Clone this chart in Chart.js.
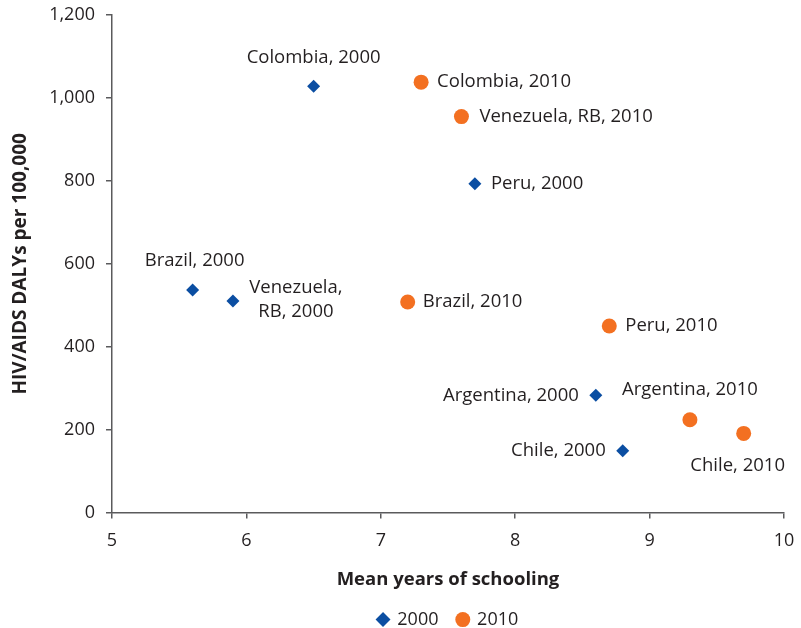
<!DOCTYPE html>
<html>
<head>
<meta charset="utf-8">
<script src="https://cdn.jsdelivr.net/npm/chart.js@4"></script>
<style>
  html, body { margin: 0; padding: 0; background: #ffffff; }
  canvas { display: block; }
</style>
</head>
<body>
<canvas id="c" width="801" height="628"></canvas>
<script>
// ---- data ----
const countries2000 = ['Colombia', 'Peru', 'Brazil', 'Venezuela, RB', 'Argentina', 'Chile'];
const schooling2000 = [6.5, 7.7, 5.6, 5.9, 8.6, 8.8];
const dalys2000 = [1028, 793, 537, 510, 283, 149];

const countries2010 = ['Colombia', 'Venezuela, RB', 'Brazil', 'Peru', 'Argentina', 'Chile'];
const schooling2010 = [7.3, 7.6, 7.2, 8.7, 9.3, 9.7];
const dalys2010 = [1038, 955, 508, 450, 224, 191];

const seriesNames = ['2000', '2010'];
const xTitle = 'Mean years of schooling';
const yTitle = 'HIV/AIDS DALYs per 100,000';

// ---- label placement (styling only: offsets from each point, in px) ----
const labelPlacement = [
  [ // 2000
    { dx: 0, dy: -29, align: 'center' },       // Colombia
    { dx: 16, dy: 0, align: 'left' },          // Peru
    { dx: 2, dy: -29, align: 'center' },       // Brazil
    { dx: 63, dy: -1, align: 'center', lines: ['Venezuela,', 'RB, 2000'] }, // Venezuela
    { dx: -17, dy: 0, align: 'right' },        // Argentina
    { dx: -17, dy: 0, align: 'right' }         // Chile
  ],
  [ // 2010
    { dx: 16, dy: 0, align: 'left' },          // Colombia
    { dx: 18, dy: 0, align: 'left' },          // Venezuela
    { dx: 15, dy: 0, align: 'left' },          // Brazil
    { dx: 16, dy: 0, align: 'left' },          // Peru
    { dx: 0, dy: -30, align: 'center' },       // Argentina
    { dx: -6, dy: 32, align: 'center' }        // Chile
  ]
];

const FONT = '"Open Sans", "Noto Sans", sans-serif';
const TEXT = '#231f20';
const AXIS = '#5a5a5c';
const BLUE = '#0b4ea2';
const ORANGE = '#f37021';

const pointLabels = {
  id: 'pointLabels',
  afterDatasetsDraw(chart) {
    const ctx = chart.ctx;
    ctx.save();
    ctx.font = '18.5px ' + FONT;
    ctx.fillStyle = TEXT;
    ctx.textBaseline = 'middle';
    chart.data.datasets.forEach((ds, di) => {
      const meta = chart.getDatasetMeta(di);
      meta.data.forEach((el, i) => {
        const p = labelPlacement[di][i];
        const lines = p.lines || [ds.names[i] + ', ' + ds.label];
        ctx.textAlign = p.align;
        const lh = 24;
        const y0 = el.y + p.dy - (lines.length - 1) * lh / 2;
        lines.forEach((t, k) => ctx.fillText(t, el.x + p.dx, y0 + k * lh));
      });
    });
    ctx.restore();
  }
};

function zeroPad(s) { s.paddingTop = 0; s.paddingBottom = 0; s.paddingLeft = 0; s.paddingRight = 0; }

new Chart(document.getElementById('c'), {
  type: 'scatter',
  data: {
    datasets: [
      {
        label: seriesNames[0],
        names: countries2000,
        data: schooling2000.map((x, i) => ({ x: x, y: dalys2000[i] })),
        pointStyle: 'rectRot',
        pointRadius: 6.5,
        backgroundColor: BLUE,
        borderColor: BLUE,
        borderWidth: 0
      },
      {
        label: seriesNames[1],
        names: countries2010,
        data: schooling2010.map((x, i) => ({ x: x, y: dalys2010[i] })),
        pointStyle: 'circle',
        pointRadius: 7.5,
        backgroundColor: ORANGE,
        borderColor: ORANGE,
        borderWidth: 0
      }
    ]
  },
  options: {
    responsive: false,
    devicePixelRatio: 1,
    animation: false,
    events: [],
    layout: { autoPadding: false, padding: { top: 15, right: 17, bottom: -10.6, left: 0 } },
    plugins: {
      tooltip: { enabled: false },
      legend: {
        position: 'bottom',
        fullSize: false,
        labels: {
          usePointStyle: true,
          boxWidth: 10.6,
          boxHeight: 10.6,
          padding: 19,
          color: TEXT,
          font: { family: FONT, size: 18 }
        }
      }
    },
    scales: {
      x: {
        type: 'linear',
        min: 5, max: 10,
        afterFit: s => { s.height = 79; zeroPad(s); },
        ticks: { stepSize: 1, padding: 11, color: TEXT, font: { family: FONT, size: 18 } },
        grid: { display: true, drawOnChartArea: false, drawTicks: true, tickLength: 6, color: AXIS, lineWidth: 1.5 },
        border: { display: true, color: AXIS, width: 1.5 },
        title: { display: true, text: xTitle, color: TEXT, padding: { top: 0, bottom: 1 }, font: { family: FONT, size: 18.5, weight: 'bold' } }
      },
      y: {
        type: 'linear',
        min: 0, max: 1200,
        afterFit: s => { s.width = 112; zeroPad(s); },
        ticks: {
          stepSize: 200, padding: 11, color: TEXT, font: { family: FONT, size: 18 },
          callback: v => Number(v).toLocaleString('en-US')
        },
        grid: { display: true, drawOnChartArea: false, drawTicks: true, tickLength: 6, color: AXIS, lineWidth: 1.5 },
        border: { display: true, color: AXIS, width: 1.5 },
        title: { display: true, text: yTitle, color: TEXT, padding: { top: 9, bottom: 0 }, font: { family: FONT, size: 19, weight: 'bold' } }
      }
    }
  },
  plugins: [pointLabels]
});
</script>
</body>
</html>
